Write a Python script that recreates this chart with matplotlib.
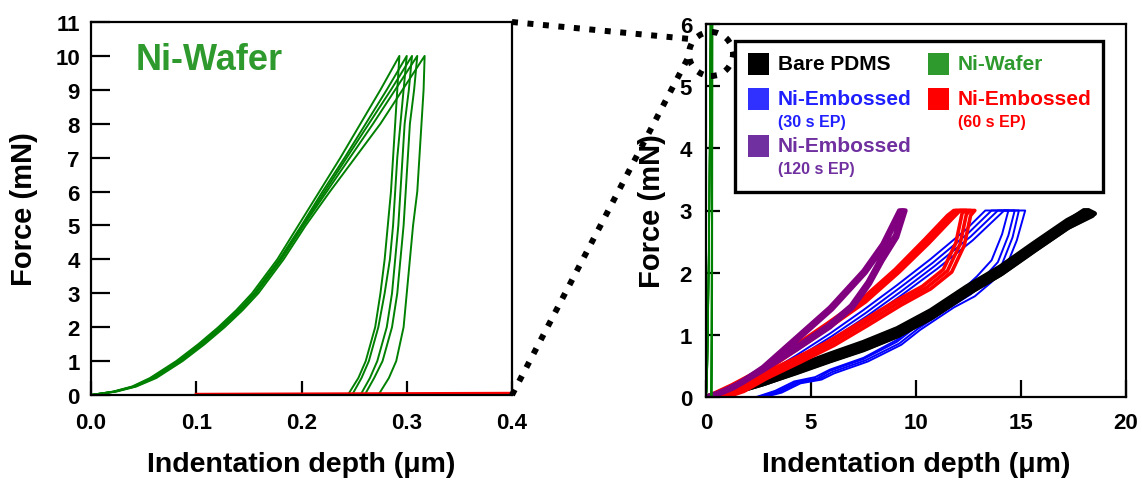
import matplotlib
matplotlib.use("Agg")
import matplotlib.pyplot as plt
from matplotlib.lines import Line2D
from matplotlib.patches import Rectangle, Ellipse

plt.rcParams['font.family'] = ['Liberation Sans', 'DejaVu Sans']
plt.rcParams['font.weight'] = 'bold'
plt.rcParams['axes.labelweight'] = 'bold'

W, H = 1142, 485

# ---- Ni-Wafer indentation (depth in um, force in mN), five runs ----
wafer_load_F = [0, 0.1, 0.25, 0.5, 1, 1.5, 2, 2.5, 3, 4, 5, 6, 7, 8, 9, 10]
wafer_load_h = [
    [0, 0.021, 0.039, 0.056, 0.081, 0.102, 0.121, 0.138, 0.153, 0.177, 0.197, 0.217, 0.237, 0.256, 0.275, 0.293],
    [0, 0.022, 0.040, 0.058, 0.083, 0.104, 0.123, 0.140, 0.155, 0.179, 0.200, 0.220, 0.241, 0.261, 0.281, 0.300],
    [0, 0.022, 0.041, 0.059, 0.084, 0.105, 0.124, 0.141, 0.156, 0.180, 0.201, 0.222, 0.243, 0.264, 0.285, 0.305],
    [0, 0.023, 0.042, 0.060, 0.085, 0.106, 0.125, 0.142, 0.157, 0.181, 0.202, 0.224, 0.246, 0.268, 0.289, 0.310],
    [0, 0.024, 0.043, 0.062, 0.087, 0.108, 0.127, 0.144, 0.159, 0.183, 0.204, 0.227, 0.251, 0.275, 0.296, 0.317],
]
wafer_unload_F = [10, 9, 8, 7, 6, 5, 4, 3, 2, 1, 0.5, 0]
wafer_unload_h = [
    [0.293, 0.291, 0.289, 0.287, 0.285, 0.282, 0.279, 0.275, 0.270, 0.261, 0.254, 0.244],
    [0.300, 0.297, 0.294, 0.291, 0.289, 0.287, 0.284, 0.279, 0.273, 0.264, 0.257, 0.248],
    [0.305, 0.302, 0.298, 0.296, 0.294, 0.292, 0.289, 0.286, 0.281, 0.272, 0.265, 0.256],
    [0.310, 0.307, 0.303, 0.301, 0.299, 0.297, 0.294, 0.291, 0.286, 0.277, 0.269, 0.260],
    [0.317, 0.316, 0.314, 0.312, 0.310, 0.306, 0.303, 0.300, 0.297, 0.290, 0.283, 0.273],
]
# 60 s EP baseline seen on the sub-micron scale
ep60_zoom_h = [0.1, 0.4]
ep60_zoom_F = [0.02, 0.05]

# ---- Bare PDMS, three runs: (load h, load F, unload h, unload F) ----
pdms_runs = [
    ([0, 1.3, 2.7, 4.3, 5.9, 7.5, 9.1, 10.7, 12.4, 14.0, 15.6, 17.2, 18.1],
     [0, 0.13, 0.30, 0.49, 0.69, 0.88, 1.10, 1.39, 1.77, 2.09, 2.47, 2.84, 3.0],
     [18.4, 17.2, 15.6, 14.0, 12.4, 10.7, 9.1, 7.5, 5.9, 4.3, 2.7, 1.3, 0.3],
     [2.92, 2.72, 2.35, 1.97, 1.65, 1.27, 0.98, 0.76, 0.58, 0.39, 0.21, 0.07, 0]),
    ([0, 1.3, 2.7, 4.3, 5.9, 7.5, 9.1, 10.7, 12.4, 14.0, 15.6, 17.2, 18.2],
     [0, 0.11, 0.27, 0.46, 0.66, 0.85, 1.06, 1.35, 1.73, 2.05, 2.43, 2.80, 3.0],
     [18.5, 17.3, 15.7, 14.1, 12.5, 10.8, 9.2, 7.6, 6.0, 4.4, 2.8, 1.4, 0.4],
     [2.95, 2.74, 2.37, 1.99, 1.67, 1.29, 1.00, 0.78, 0.60, 0.41, 0.22, 0.08, 0]),
    ([0, 1.3, 2.7, 4.3, 5.9, 7.5, 9.1, 10.7, 12.4, 14.0, 15.6, 17.2, 18.0],
     [0, 0.12, 0.28, 0.47, 0.67, 0.86, 1.08, 1.37, 1.75, 2.07, 2.45, 2.82, 3.0],
     [18.3, 17.1, 15.5, 13.9, 12.3, 10.6, 9.0, 7.4, 5.8, 4.2, 2.6, 1.2, 0.3],
     [2.93, 2.73, 2.36, 1.98, 1.66, 1.28, 0.99, 0.77, 0.59, 0.40, 0.21, 0.07, 0]),
]

# ---- Ni-Embossed 30 s EP, four runs ----
ep30_runs = [
    ([0, 1.5, 2.7, 4.3, 5.9, 7.5, 9.1, 10.7, 12.4, 13.3],
     [0, 0.12, 0.34, 0.67, 1.02, 1.40, 1.80, 2.22, 2.70, 3.0],
     [14.4, 14.1, 13.6, 12.9, 12.2, 11.4, 10.0, 9.1, 7.5, 5.9, 5.2, 4.2, 3.3, 2.4],
     [3.0, 2.62, 2.20, 1.94, 1.72, 1.52, 1.16, 0.92, 0.63, 0.44, 0.32, 0.25, 0.10, 0]),
    ([0, 1.6, 2.8, 4.4, 6.0, 7.6, 9.2, 10.8, 12.5, 13.6],
     [0, 0.11, 0.32, 0.64, 0.98, 1.35, 1.75, 2.16, 2.64, 3.0],
     [14.7, 14.4, 13.9, 13.2, 12.4, 11.6, 10.0, 9.1, 7.5, 5.9, 5.3, 4.3, 3.4, 2.6],
     [3.0, 2.60, 2.17, 1.91, 1.68, 1.48, 1.13, 0.89, 0.61, 0.42, 0.30, 0.24, 0.09, 0]),
    ([0, 1.7, 2.9, 4.5, 6.1, 7.7, 9.3, 10.9, 12.6, 13.9],
     [0, 0.10, 0.30, 0.61, 0.95, 1.31, 1.70, 2.11, 2.58, 3.0],
     [14.9, 14.6, 14.1, 13.4, 12.6, 11.7, 10.1, 9.2, 7.6, 6.0, 5.4, 4.4, 3.5, 2.7],
     [3.0, 2.57, 2.14, 1.88, 1.65, 1.46, 1.10, 0.86, 0.59, 0.40, 0.29, 0.23, 0.08, 0]),
    ([0, 1.8, 3.0, 4.6, 6.2, 7.8, 9.4, 11.0, 12.7, 14.2],
     [0, 0.09, 0.28, 0.58, 0.92, 1.27, 1.66, 2.06, 2.52, 3.0],
     [15.2, 14.8, 14.3, 13.6, 12.8, 11.8, 10.2, 9.3, 7.7, 6.1, 5.5, 4.5, 3.6, 2.8],
     [3.0, 2.52, 2.10, 1.85, 1.62, 1.44, 1.08, 0.84, 0.57, 0.38, 0.28, 0.22, 0.07, 0]),
]

# ---- Ni-Embossed 60 s EP, three runs ----
ep60_runs = [
    ([0, 1.3, 2.7, 4.3, 5.9, 7.5, 9.1, 10.5, 11.6, 11.9],
     [0, 0.18, 0.42, 0.80, 1.17, 1.55, 2.03, 2.50, 2.89, 3.0],
     [12.6, 12.4, 12.1, 11.5, 10.5, 9.1, 7.5, 5.9, 4.3, 2.7, 1.6, 0.8],
     [3.0, 2.94, 2.46, 2.03, 1.76, 1.50, 1.17, 0.85, 0.58, 0.32, 0.10, 0]),
    ([0, 1.4, 2.8, 4.4, 6.0, 7.6, 9.2, 10.6, 11.7, 12.1],
     [0, 0.17, 0.41, 0.78, 1.15, 1.53, 2.01, 2.47, 2.86, 3.0],
     [12.8, 12.6, 12.3, 11.7, 10.7, 9.3, 7.7, 6.1, 4.5, 2.9, 1.8, 1.0],
     [3.0, 2.92, 2.44, 2.01, 1.74, 1.48, 1.15, 0.83, 0.56, 0.30, 0.09, 0]),
    ([0, 1.2, 2.6, 4.2, 5.8, 7.4, 9.0, 10.4, 11.5, 11.8],
     [0, 0.19, 0.44, 0.82, 1.19, 1.57, 2.05, 2.53, 2.92, 3.0],
     [12.4, 12.2, 11.9, 11.3, 10.3, 8.9, 7.3, 5.7, 4.1, 2.5, 1.4, 0.6],
     [3.0, 2.96, 2.48, 2.05, 1.78, 1.52, 1.19, 0.87, 0.60, 0.34, 0.11, 0]),
]

# ---- Ni-Embossed 120 s EP, two runs ----
ep120_runs = [
    ([0, 0.8, 1.6, 2.7, 4.3, 5.9, 7.5, 8.4, 9.2],
     [0, 0.10, 0.23, 0.48, 0.96, 1.44, 2.03, 2.46, 3.0],
     [9.5, 9.1, 8.4, 7.8, 7.0, 5.9, 4.3, 2.7, 1.3, 0.3],
     [3.0, 2.57, 2.19, 1.82, 1.44, 1.12, 0.76, 0.42, 0.14, 0]),
    ([0, 0.9, 1.7, 2.8, 4.4, 6.0, 7.6, 8.5, 9.3],
     [0, 0.09, 0.22, 0.46, 0.93, 1.41, 2.00, 2.43, 3.0],
     [9.4, 9.0, 8.3, 7.7, 6.9, 5.8, 4.2, 2.6, 1.2, 0.2],
     [3.0, 2.60, 2.22, 1.85, 1.47, 1.15, 0.79, 0.44, 0.15, 0]),
]

# legend entries: (main label, sub label, patch colour, text colour)
legend_rows = [
    ("Bare PDMS", "", "black", "black"),
    ("Ni-Wafer", "", "#2e9a2e", "#2e9a2e"),
    ("Ni-Embossed", "(30 s EP)", "#3030ff", "#2020ff"),
    ("Ni-Embossed", "(60 s EP)", "#ff0000", "#ff0000"),
    ("Ni-Embossed", "(120 s EP)", "#7030a0", "#7030a0"),
]

green = "#008000"
blue = "#0000ff"
red = "#ff0000"
purple = "#800080"


def fx(px):
    return px / W


def fy(py):
    return 1 - py / H


def draw_runs(ax, runs, color, lw):
    for lh, lf, uh, uf in runs:
        ax.plot(lh + uh, lf + uf, color=color, lw=lw,
                solid_joinstyle='round', solid_capstyle='round')


fig = plt.figure(figsize=(W / 100, H / 100), dpi=100)
ax1 = fig.add_axes([fx(91), fy(396), fx(421), 373 / H])
ax2 = fig.add_axes([fx(706), fy(398), fx(420), 373 / H])

# left: Ni-Wafer close-up
for i in range(len(wafer_load_h)):
    ax1.plot(wafer_load_h[i] + wafer_unload_h[i], wafer_load_F + wafer_unload_F,
             color=green, lw=1.4, solid_joinstyle='round')
ax1.plot(ep60_zoom_h, ep60_zoom_F, color=red, lw=2.2)
ax1.set_xlim(0, 0.4)
ax1.set_ylim(0, 11)
ax1.set_xticks([0.0, 0.1, 0.2, 0.3, 0.4])
ax1.set_xticklabels(["0.0", "0.1", "0.2", "0.3", "0.4"])
ax1.set_yticks(range(0, 12))
ax1.tick_params(axis='x', direction='in', length=10, width=1.6, pad=12, labelsize=16)
ax1.tick_params(axis='y', direction='in', length=14, width=1.6, pad=8, labelsize=16)
ax1.text(0.107, 0.90, "Ni-Wafer", transform=ax1.transAxes, color="#2e9a2e",
         fontsize=26, fontweight='bold', ha='left', va='center')
ax1.set_ylabel("Force (mN)", fontsize=21, labelpad=12)

# right: all samples
draw_runs(ax2, ep30_runs, blue, 1.4)
draw_runs(ax2, pdms_runs, "black", 3.6)
draw_runs(ax2, ep60_runs, red, 2.6)
draw_runs(ax2, ep120_runs, purple, 3.2)
for i in range(len(wafer_load_h)):
    ax2.plot(wafer_load_h[i] + wafer_unload_h[i], wafer_load_F + wafer_unload_F,
             color=green, lw=1.2)
ax2.set_xlim(0, 20)
ax2.set_ylim(0, 6)
ax2.set_xticks([0, 5, 10, 15, 20])
ax2.set_yticks(range(0, 7))
ax2.tick_params(axis='x', direction='in', length=12, width=1.6, pad=11, labelsize=16)
ax2.tick_params(axis='y', direction='in', length=10, width=1.6, pad=10, labelsize=16)
ax2.set_ylabel("Force (mN)", fontsize=21, labelpad=10)

for ax in (ax1, ax2):
    for sp in ax.spines.values():
        sp.set_linewidth(1.6)
    ax.set_xlabel("Indentation depth (μm)", fontsize=20.5, labelpad=13)

# legend box drawn by hand (two-line labels with a smaller second line)
fig.add_artist(Rectangle((fx(735), fy(193)), fx(368), 151 / H, transform=fig.transFigure,
                         facecolor='white', edgecolor='black', lw=2.4, zorder=5))
slots = [(748, 65), (928, 65), (748, 100), (928, 100), (748, 147)]
for (label, sub, pc, tc), (x0, yc) in zip(legend_rows, slots):
    fig.add_artist(Rectangle((fx(x0), fy(yc + 11)), fx(21), 22 / H, transform=fig.transFigure,
                             facecolor=pc, edgecolor='none', zorder=6))
    fig.text(fx(x0 + 30), fy(yc), label, color=tc, fontsize=15, fontweight='bold',
             ha='left', va='center', zorder=7)
    if sub:
        fig.text(fx(x0 + 30), fy(yc + 22.5), sub, color=tc, fontsize=11.5, fontweight='bold',
                 ha='left', va='center', zorder=7)

# dotted zoom guide from the left panel to the right panel
dot = dict(color='black', lw=4.3, linestyle=(0, (1, 1.6)), dash_capstyle='butt',
           transform=fig.transFigure, zorder=8)
fig.add_artist(Line2D([fx(512), fx(690)], [fy(23), fy(40)], **dot))
fig.add_artist(Line2D([fx(512), fx(689)], [fy(396), fy(57)], **dot))
fig.add_artist(Ellipse((fx(711), fy(55)), fx(44), 44 / H, transform=fig.transFigure,
                       fill=False, edgecolor='black', lw=4.3, linestyle=(0, (1, 1.6)), zorder=8))

fig.savefig("out.png", dpi=100)
